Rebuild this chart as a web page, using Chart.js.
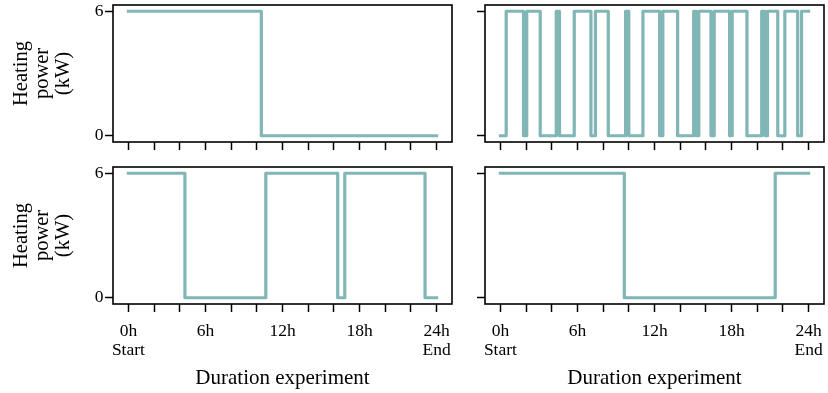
<!DOCTYPE html>
<html>
<head>
<meta charset="utf-8">
<script src="https://cdn.jsdelivr.net/npm/chart.js@4.4.1/dist/chart.umd.min.js"></script>
<style>
  body { margin: 0; background: #fff; }
  #wrap { position: relative; width: 828px; height: 393px; }
  canvas { position: absolute; }
</style>
</head>
<body>
<div id="wrap">
  <canvas id="c-tl" width="460" height="160" style="left:0;top:0"></canvas>
  <canvas id="c-tr" width="368" height="160" style="left:460px;top:0"></canvas>
  <canvas id="c-bl" width="460" height="233" style="left:0;top:160px"></canvas>
  <canvas id="c-br" width="368" height="233" style="left:460px;top:160px"></canvas>
</div>
<script>
// === DATA === //
const x_ticks = [0, 2, 4, 6, 8, 10, 12, 14, 16, 18, 20, 22, 24];
const label_hours = [0, 6, 12, 18, 24];
const label_texts = [['0h', 'Start'], '6h', '12h', '18h', ['24h', 'End']];
const y_ticks = [0, 6];

// switch times (h) and heating power (kW) from that time on
const times_tl = [0, 10.35, 24];
const power_tl = [6, 0, 0];

const times_tr = [0, 0.45, 1.8, 2.05, 3.1, 4.35, 4.6, 5.75, 7.05, 7.4, 8.4, 9.75, 10.0, 11.1,
                  12.4, 12.65, 13.8, 15.05, 15.25, 15.45, 16.4, 16.65, 17.85, 18.05, 19.2,
                  20.35, 20.6, 20.8, 21.6, 22.15, 23.15, 23.45, 24];
const power_tr = [0, 6, 0, 6, 0, 6, 0, 6, 0, 6, 0, 6, 0, 6,
                  0, 6, 0, 6, 0, 6, 0, 6, 0, 6, 0,
                  6, 0, 6, 0, 6, 0, 6, 6];

const times_bl = [0, 4.4, 10.7, 16.3, 16.85, 23.1, 24];
const power_bl = [6, 0, 6, 0, 6, 0, 0];

const times_br = [0, 9.65, 21.4, 24];
const power_br = [6, 0, 6, 6];

const line_color = '#80b6b5';
const serif = "'Liberation Serif', 'Times New Roman', serif";

// frame around each plot area
const frame = {
  id: 'frame',
  afterDraw(chart) {
    const a = chart.chartArea, ctx = chart.ctx;
    ctx.save();
    ctx.strokeStyle = '#000';
    ctx.lineWidth = 1.6;
    ctx.strokeRect(a.left, a.top, a.right - a.left, a.bottom - a.top);
    ctx.restore();
  }
};

function panel(id, times, power, o) {
  return new Chart(document.getElementById(id), {
    type: 'line',
    data: {
      datasets: [{
        data: times.map((t, i) => ({ x: t, y: power[i] })),
        borderColor: line_color,
        borderWidth: 3.2,
        stepped: 'before',
        pointRadius: 0,
        borderJoinStyle: 'round',
        borderCapStyle: 'square',
        fill: false
      }]
    },
    options: {
      responsive: false,
      animation: false,
      layout: { padding: { top: o.padTop, right: o.padRight, left: 0, bottom: 0 } },
      plugins: { legend: { display: false }, tooltip: { enabled: false } },
      scales: {
        x: {
          type: 'linear',
          min: -1.2,
          max: 25.2,
          afterBuildTicks: s => { s.ticks = x_ticks.map(v => ({ value: v })); },
          afterFit: s => { s.height = o.xHeight; s.paddingLeft = 0; s.paddingRight = 0; },
          border: { display: false },
          grid: { drawOnChartArea: false, drawTicks: true, tickLength: 8, tickColor: '#000', tickWidth: 1.5 },
          ticks: {
            autoSkip: false,
            maxRotation: 0,
            padding: 10,
            color: '#000',
            font: { family: serif, size: 17.5, lineHeight: 1.08 },
            callback: v => {
              const i = label_hours.indexOf(v);
              return (o.showX && i >= 0) ? label_texts[i] : '';
            }
          },
          title: {
            display: o.showX,
            text: 'Duration experiment',
            color: '#000',
            font: { family: serif, size: 21 },
            padding: { top: 0, bottom: 2 }
          }
        },
        y: {
          min: -0.3,
          max: 6.3,
          afterBuildTicks: s => { s.ticks = y_ticks.map(v => ({ value: v })); },
          afterFit: s => { s.width = o.yWidth; s.paddingTop = 0; s.paddingBottom = 0; },
          border: { display: false },
          grid: { drawOnChartArea: false, drawTicks: true, tickLength: 8, tickColor: '#000', tickWidth: 1.5 },
          ticks: {
            padding: 1.5,
            color: '#000',
            font: { family: serif, size: 17.5 },
            callback: v => o.showY ? String(v) : ''
          },
          title: {
            display: o.showY,
            text: ['Heating', 'power', '(kW)'],
            color: '#000',
            font: { family: serif, size: 20.5, lineHeight: 1.02 },
            padding: { top: 11, bottom: 0 }
          }
        }
      }
    },
    plugins: [frame]
  });
}

panel('c-tl', times_tl, power_tl, { showX: false, showY: true,  padTop: 5, padRight: 8, xHeight: 18, yWidth: 113 });
panel('c-tr', times_tr, power_tr, { showX: false, showY: false, padTop: 5, padRight: 4, xHeight: 18, yWidth: 25 });
panel('c-bl', times_bl, power_bl, { showX: true,  showY: true,  padTop: 7, padRight: 8, xHeight: 89, yWidth: 113 });
panel('c-br', times_br, power_br, { showX: true,  showY: false, padTop: 7, padRight: 4, xHeight: 89, yWidth: 25 });
</script>
</body>
</html>
